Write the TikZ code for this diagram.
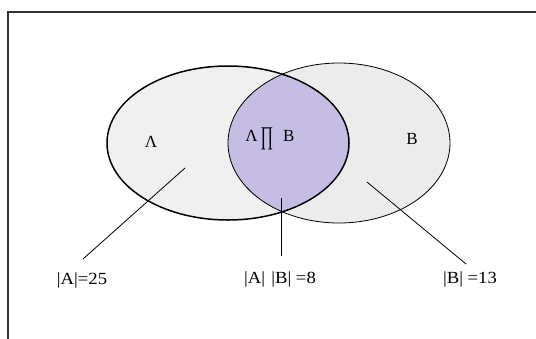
\documentclass[tikz,border=0pt]{standalone}
\usepackage{graphicx}
\usepackage{fontspec}
\setmainfont{Liberation Serif}
\begin{document}
\begin{tikzpicture}[x=1pt,y=-1pt,
  lbl/.style={font=\fontsize{17}{18}\selectfont, inner sep=0pt, xscale=1.1},
  setlbl/.style={font=\fontsize{17}{18}\selectfont, inner sep=0pt},
  pointer/.style={draw=black, line width=0.8pt}]
\useasboundingbox (0,0) rectangle (536,338);
\fill[white] (0,0) rectangle (536,338);
% frame
\draw[line width=1.2pt, draw=black!80] (8,340) -- (8,12) -- (540,12);
% ellipses
\fill[gray!15] (339,143) ellipse [x radius=111, y radius=80];
\fill[gray!12] (228,143) ellipse [x radius=121, y radius=77];
\begin{scope}
  \clip (228,143) ellipse [x radius=121, y radius=77];
  \fill[fill={rgb,255:red,197;green,189;blue,227}] (339,143) ellipse [x radius=111, y radius=80];
\end{scope}
\draw[line width=0.8pt] (339,143) ellipse [x radius=111, y radius=80];
\draw[line width=1.5pt] (228,143) ellipse [x radius=121, y radius=77];
% labels inside
\node[setlbl] (la) at (151,142) {Λ};
\node[setlbl] (lab) at (270,139) {Λ\,\raisebox{-3pt}{\scalebox{0.9}[1.5]{∏}}\,\, B};
\node[setlbl] (lb) at (412,139) {B};
% counts
\node[lbl] (ca) at (82,280) {|A|=25};
\node[lbl] (cab) at (280,279) {|A|\,\,|B| =8};
\node[lbl] (cb) at (470,279) {|B| =13};
% pointer coordinates
\coordinate (pa) at (185,168);
\coordinate (pab) at (281,198);
\coordinate (pb) at (367,182);
\coordinate (ea) at (83,259);
\coordinate (eab) at (281,256);
\coordinate (eb) at (466,264);
\draw[pointer] (pa) -- (ea);
\draw[pointer, line width=1pt] (pab) -- (eab);
\draw[pointer] (pb) -- (eb);
\end{tikzpicture}
\end{document}
